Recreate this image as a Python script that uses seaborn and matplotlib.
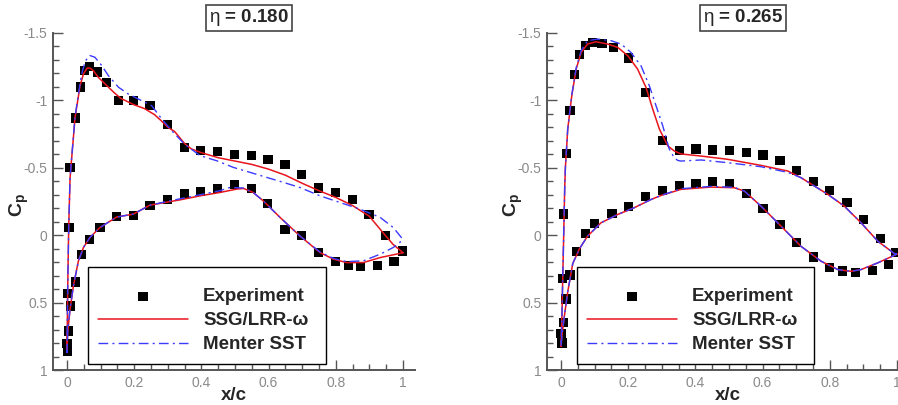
import numpy as np
import pandas as pd
import matplotlib
matplotlib.use('Agg')
import matplotlib.pyplot as plt
import seaborn as sns
from matplotlib.patches import Rectangle
from matplotlib.ticker import MultipleLocator, FuncFormatter

# ---- eta = 0.180 ----
exp1_x = [0.009, 0.025, 0.039, 0.053, 0.068, 0.090, 0.118, 0.153, 0.198, 0.247,
          0.300, 0.349, 0.398, 0.449, 0.499, 0.549, 0.598, 0.649, 0.698, 0.748,
          0.800, 0.849, 0.899, 0.949, 0.999,
          0.973, 0.924, 0.874, 0.837, 0.800, 0.748, 0.698, 0.649, 0.597, 0.549,
          0.499, 0.449, 0.398, 0.349, 0.300, 0.247, 0.198, 0.148, 0.098, 0.068,
          0.042, 0.025, 0.011, 0.004, 0.000, 0.001, 0.002, 0.006]
exp1_cp = [-0.50, -0.87, -1.10, -1.22, -1.25, -1.21, -1.13, -1.00, -1.00, -0.96,
           -0.82, -0.65, -0.63, -0.62, -0.60, -0.59, -0.56, -0.525, -0.453, -0.35,
           -0.315, -0.265, -0.154, 0.005, 0.117,
           0.198, 0.223, 0.235, 0.223, 0.193, 0.129, 0.005, -0.04, -0.238, -0.347,
           -0.374, -0.347, -0.325, -0.305, -0.265, -0.223, -0.149, -0.136, -0.057, 0.03,
           0.141, 0.347, 0.525, 0.71, 0.805, 0.86, 0.43, -0.057]

ssg1_x = [1.0, 0.97, 0.94, 0.90, 0.85, 0.80, 0.75, 0.70, 0.65, 0.60,
          0.55, 0.50, 0.45, 0.40, 0.37, 0.35, 0.32, 0.30, 0.28, 0.26,
          0.23, 0.20, 0.16, 0.14, 0.11, 0.093, 0.078, 0.068, 0.06, 0.049,
          0.039, 0.024, 0.012, 0.009, 0.005, 0.002, 0.0,
          0.002, 0.009, 0.019, 0.034, 0.049, 0.068, 0.098, 0.148, 0.197,
          0.247, 0.297, 0.336, 0.396, 0.455, 0.505, 0.525, 0.554, 0.584,
          0.634, 0.693, 0.753, 0.793, 0.832, 0.882, 0.932, 1.0]
ssg1_cp = [0.13, 0.067, -0.02, -0.14, -0.22, -0.28, -0.33, -0.385, -0.445, -0.49,
           -0.525, -0.55, -0.575, -0.612, -0.64, -0.68, -0.77, -0.80, -0.85, -0.895,
           -0.94, -0.967, -1.015, -1.058, -1.13, -1.172, -1.222, -1.24, -1.24, -1.197,
           -1.11, -0.875, -0.515, -0.42, -0.05, 0.40, 0.87,
           0.72, 0.55, 0.377, 0.19, 0.091, 0.017, -0.057, -0.135, -0.156,
           -0.223, -0.245, -0.262, -0.292, -0.317, -0.342, -0.347, -0.317, -0.255,
           -0.132, 0.005, 0.129, 0.178, 0.203, 0.203, 0.166, 0.13]

sst1_x = [0.996, 0.971, 0.932, 0.872, 0.812, 0.753, 0.693, 0.644, 0.594, 0.545,
          0.495, 0.446, 0.396, 0.349, 0.312, 0.282, 0.252, 0.222, 0.182, 0.153,
          0.123, 0.103, 0.083, 0.068, 0.055, 0.045, 0.039, 0.024, 0.012, 0.009,
          0.005, 0.002, 0.0,
          0.002, 0.009, 0.019, 0.034, 0.049, 0.068, 0.098, 0.148, 0.197,
          0.247, 0.297, 0.336, 0.396, 0.455, 0.485, 0.525, 0.554, 0.584,
          0.634, 0.693, 0.753, 0.793, 0.832, 0.882, 0.932, 0.971, 0.991, 0.996]
sst1_cp = [0.02, -0.057, -0.132, -0.193, -0.243, -0.292, -0.354, -0.392, -0.429, -0.466,
           -0.503, -0.552, -0.59, -0.677, -0.775, -0.862, -0.961, -0.998, -1.048, -1.098,
           -1.184, -1.26, -1.32, -1.333, -1.294, -1.21, -1.13, -0.88, -0.52, -0.42,
           -0.05, 0.40, 0.87,
           0.72, 0.55, 0.377, 0.19, 0.091, 0.017, -0.057, -0.135, -0.156,
           -0.223, -0.25, -0.27, -0.30, -0.33, -0.354, -0.35, -0.317, -0.255,
           -0.132, 0.005, 0.125, 0.172, 0.196, 0.19, 0.141, 0.091, 0.054, 0.02]

# ---- eta = 0.265 ----
exp2_x = [0.016, 0.027, 0.040, 0.056, 0.072, 0.094, 0.122, 0.157, 0.201, 0.252,
          0.302, 0.352, 0.402, 0.452, 0.502, 0.552, 0.601, 0.652, 0.701, 0.751,
          0.800, 0.851, 0.900, 0.952, 0.997,
          0.975, 0.926, 0.876, 0.838, 0.800, 0.751, 0.701, 0.652, 0.601, 0.552,
          0.502, 0.452, 0.402, 0.352, 0.302, 0.252, 0.201, 0.152, 0.099, 0.072,
          0.045, 0.027, 0.005, 0.015, 0.008, 0.000, 0.003, 0.008]
exp2_cp = [-0.607, -0.925, -1.19, -1.338, -1.41, -1.43, -1.425, -1.39, -1.315, -1.056,
           -0.70, -0.627, -0.64, -0.632, -0.627, -0.615, -0.595, -0.557, -0.48, -0.40,
           -0.332, -0.243, -0.114, 0.025, 0.129,
           0.216, 0.26, 0.277, 0.265, 0.24, 0.161, 0.054, -0.077, -0.199, -0.31,
           -0.384, -0.396, -0.384, -0.366, -0.33, -0.29, -0.21, -0.162, -0.085, -0.012,
           0.119, 0.295, 0.32, 0.474, 0.65, 0.731, 0.80, -0.157]

ssg2_x = [1.0, 0.992, 0.943, 0.893, 0.843, 0.794, 0.714, 0.675, 0.595, 0.496,
          0.417, 0.357, 0.337, 0.318, 0.293, 0.273, 0.253, 0.228, 0.199, 0.169,
          0.139, 0.104, 0.079, 0.060, 0.045, 0.032, 0.020, 0.013, 0.011, 0.008,
          0.005, 0.003, 0.0,
          0.003, 0.010, 0.020, 0.035, 0.055, 0.079, 0.119, 0.169, 0.218,
          0.268, 0.298, 0.357, 0.446, 0.516, 0.546, 0.595, 0.645, 0.714,
          0.774, 0.824, 0.863, 0.893, 0.943, 1.0]
ssg2_cp = [0.14, 0.136, 0.045, -0.092, -0.216, -0.303, -0.427, -0.476, -0.518, -0.563,
           -0.587, -0.603, -0.625, -0.662, -0.786, -0.935, -1.096, -1.232, -1.331, -1.393,
           -1.418, -1.435, -1.418, -1.356, -1.232, -1.034, -0.786, -0.50, -0.35, 0.0,
           0.33, 0.577, 0.825,
           0.74, 0.60, 0.42, 0.21, 0.10, 0.007, -0.092, -0.154, -0.204,
           -0.265, -0.295, -0.34, -0.357, -0.352, -0.327, -0.216, -0.092, 0.082,
           0.193, 0.255, 0.268, 0.255, 0.205, 0.14]

sst2_x = [1.0, 0.992, 0.943, 0.893, 0.843, 0.794, 0.714, 0.675, 0.595, 0.496,
          0.417, 0.357, 0.347, 0.337, 0.322, 0.303, 0.283, 0.263, 0.238, 0.208,
          0.179, 0.149, 0.109, 0.079, 0.060, 0.045, 0.032, 0.020, 0.013, 0.011,
          0.008, 0.005, 0.003, 0.0,
          0.003, 0.010, 0.020, 0.035, 0.055, 0.079, 0.119, 0.169, 0.218,
          0.268, 0.298, 0.357, 0.446, 0.516, 0.546, 0.595, 0.645, 0.714,
          0.774, 0.824, 0.863, 0.893, 0.943, 1.0]
sst2_cp = [0.14, 0.136, 0.045, -0.092, -0.216, -0.303, -0.427, -0.466, -0.508, -0.538,
           -0.558, -0.55, -0.555, -0.575, -0.64, -0.81, -0.959, -1.108, -1.257, -1.356,
           -1.418, -1.443, -1.455, -1.443, -1.37, -1.24, -1.04, -0.79, -0.50, -0.35,
           0.0, 0.33, 0.577, 0.825,
           0.74, 0.60, 0.42, 0.21, 0.10, 0.007, -0.092, -0.154, -0.204,
           -0.265, -0.295, -0.345, -0.362, -0.355, -0.327, -0.216, -0.092, 0.082,
           0.193, 0.255, 0.268, 0.255, 0.205, 0.14]

RED = '#e8141c'
BLUE = '#3b3bff'

sns.set_style('white')
plt.rcParams['font.family'] = ['Liberation Sans', 'DejaVu Sans']
plt.rcParams['mathtext.fontset'] = 'custom'
plt.rcParams['mathtext.rm'] = 'Liberation Sans'
plt.rcParams['mathtext.bf'] = 'Liberation Sans:bold'

W, H = 898, 405
fig = plt.figure(figsize=(W / 100, H / 100), dpi=100)


def panel(left_px, eta, ex, ecp, sx, scp, mx, mcp, box_x0, box_x1, hand_x):
    ax = fig.add_axes([left_px / W, 35 / H, 362 / W, 337 / H])
    sns.scatterplot(x=ex, y=ecp, marker='s', s=44, color='black', edgecolor='none',
                    linewidth=0, ax=ax, label='Experiment', zorder=2)
    sns.lineplot(x=sx, y=scp, sort=False, estimator=None, color=RED, lw=1.1,
                 ax=ax, label='SSG/LRR-ω', zorder=3)
    sns.lineplot(x=mx, y=mcp, sort=False, estimator=None, color=BLUE, lw=1.0,
                 ls=(0, (7, 3, 1.5, 3)), ax=ax, label='Menter SST', zorder=3)

    ax.set_xlim(-0.0417, 1.0357)
    ax.set_ylim(1, -1.5)
    ax.xaxis.set_major_locator(MultipleLocator(0.2))
    ax.xaxis.set_minor_locator(MultipleLocator(0.05))
    ax.yaxis.set_major_locator(MultipleLocator(0.5))
    ax.yaxis.set_minor_locator(MultipleLocator(0.1))
    fmt = FuncFormatter(lambda v, p: f'{v:g}')
    ax.xaxis.set_major_formatter(fmt)
    ax.yaxis.set_major_formatter(fmt)
    ax.tick_params(which='both', direction='in', color='#555555', width=1,
                   labelcolor='#8a8a8a', labelsize=10, pad=4,
                   bottom=True, left=True, top=False, right=False)
    ax.tick_params(which='major', length=7)
    ax.tick_params(which='minor', length=4)
    for s in ['top', 'right']:
        ax.spines[s].set_visible(False)
    for s in ['left', 'bottom']:
        ax.spines[s].set_color('#555555')
        ax.spines[s].set_linewidth(1.4)

    ax.set_xlabel('x/c', fontsize=13.5, fontweight='bold')
    ax.set_ylabel(r'$\mathbf{C_p}$', fontsize=14)
    ax.xaxis.set_label_coords(0.5, -0.05)
    ax.yaxis.set_label_coords(-0.06, 0.49)

    ax.text(0.541, 1.045, r'$\mathrm{\eta}$ = ' + eta, transform=ax.transAxes,
            ha='center', va='center', fontsize=13.5, fontweight='bold',
            bbox=dict(boxstyle='square,pad=0.15', fc='white', ec='#444444', lw=1.2))

    ax.add_patch(Rectangle(((box_x0 - left_px) / 362, (370 - 364) / 337),
                           (box_x1 - box_x0) / 362, (364 - 267) / 337,
                           transform=ax.transAxes, fc='white', ec='black', lw=1.0,
                           zorder=4))
    ax.legend(loc='center left', bbox_to_anchor=((hand_x - left_px) / 362, 0.146),
              frameon=False, borderpad=0, borderaxespad=0, handlelength=4.8,
              handletextpad=0.8, labelspacing=0.36,
              prop={'weight': 'bold', 'size': 13.5})
    return ax


panel(53, '0.180', exp1_x, exp1_cp, ssg1_x, ssg1_cp, sst1_x, sst1_cp, 88, 326, 98)
panel(547, '0.265', exp2_x, exp2_cp, ssg2_x, ssg2_cp, sst2_x, sst2_cp, 577, 814, 587)

fig.savefig('out.png', dpi=100)
